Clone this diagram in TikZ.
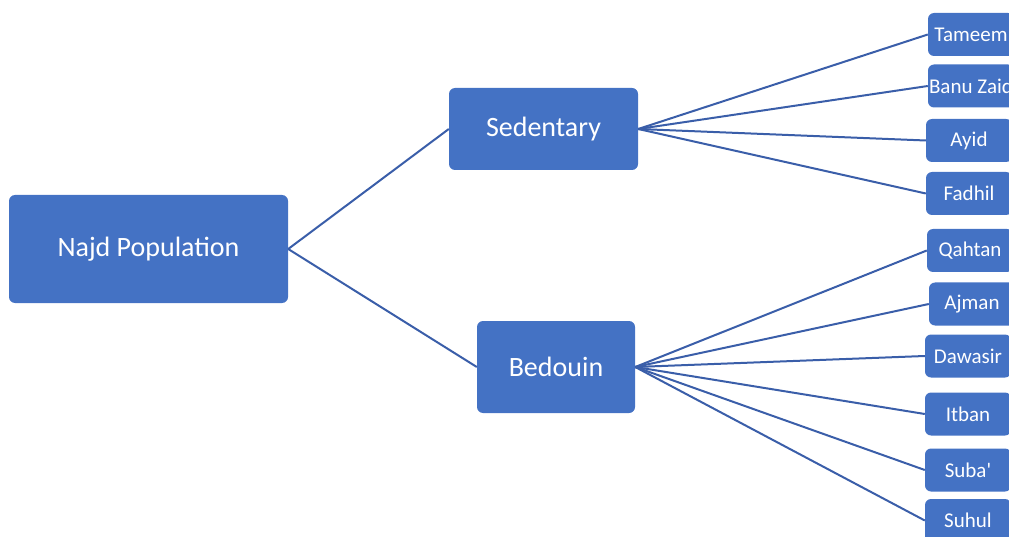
\documentclass[tikz,border=0pt]{standalone}
\usepackage{fontspec}
\setmainfont{Carlito}
\usepackage{xcolor}
\definecolor{BoxBlue}{HTML}{4472C4}
\definecolor{LineBlue}{HTML}{3A5EA9}

\begin{document}
\begin{tikzpicture}[
	x=1pt,
	y=-1pt,
	% Box style
	main node/.style={
		rectangle,
		rounded corners=6pt,
		fill=BoxBlue,
		text=white,
		inner sep=0pt,
		align=center
	},
	big node/.style={
		main node,
		font=\fontsize{28}{32}\selectfont
	},
	leaf node/.style={
		main node,
		minimum width=86pt,
		minimum height=43pt,
		font=\fontsize{21}{24}\selectfont
	},
	% Connector style
	edge/.style={
		draw=LineBlue,
		line width=2pt
	}
	]
	
	\clip (0,0) rectangle (1009,537);
	
	% ================= NODES =================
	\node[big node, minimum width=279pt, minimum height=108pt] (NP) at (148.5, 249) {Najd Population};
	
	\node[big node, minimum width=189pt, minimum height=82pt] (SED) at (543.5, 129) {Sedentary};
	\node[big node, minimum width=158pt, minimum height=92pt] (BED) at (556, 367) {Bedouin};
	
	\node[leaf node] (TAM) at (971, 34.5) {Tameem};
	\node[leaf node] (BZ) at (971, 86) {Banu Zaid};
	\node[leaf node] (AY) at (969, 140.5) {Ayid};
	\node[leaf node] (FA) at (969, 193.5) {Fadhil};
	
	\node[leaf node] (QA) at (970, 250.5) {Qahtan};
	\node[leaf node] (AJ) at (972, 304) {Ajman};
	\node[leaf node] (DA) at (968, 356) {Dawasir};
	\node[leaf node] (IT) at (968, 414) {Itban};
	\node[leaf node] (SU) at (968, 470) {Suba\textquotesingle};
	\node[leaf node] (SH) at (968, 520.5) {Suhul};
	
	% ================= EDGES =================
	\draw[edge] (NP.east) -- (SED.west);
	\draw[edge] (NP.east) -- (BED.west);
	
	\draw[edge] (SED.east) -- (TAM.west);
	\draw[edge] (SED.east) -- (BZ.west);
	\draw[edge] (SED.east) -- (AY.west);
	\draw[edge] (SED.east) -- (FA.west);
	
	\draw[edge] (BED.east) -- (QA.west);
	\draw[edge] (BED.east) -- (AJ.west);
	\draw[edge] (BED.east) -- (DA.west);
	\draw[edge] (BED.east) -- (IT.west);
	\draw[edge] (BED.east) -- (SU.west);
	\draw[edge] (BED.east) -- (SH.west);
	
\end{tikzpicture}
\end{document}
